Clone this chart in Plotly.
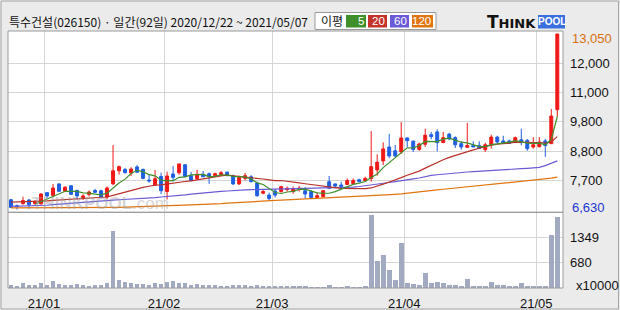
import plotly.graph_objects as go
import pandas as pd

# ---------------- data ----------------
dates = [
    "2020-12-22", "2020-12-23", "2020-12-24", "2020-12-28", "2020-12-29", "2020-12-30",
    "2021-01-04", "2021-01-05", "2021-01-06", "2021-01-07", "2021-01-08", "2021-01-11",
    "2021-01-12", "2021-01-13", "2021-01-14", "2021-01-15", "2021-01-18", "2021-01-19",
    "2021-01-20", "2021-01-21", "2021-01-22", "2021-01-25", "2021-01-26", "2021-01-27",
    "2021-01-28", "2021-01-29",
    "2021-02-01", "2021-02-02", "2021-02-03", "2021-02-04", "2021-02-05", "2021-02-08",
    "2021-02-09", "2021-02-10", "2021-02-15", "2021-02-16", "2021-02-17", "2021-02-18",
    "2021-02-19", "2021-02-22", "2021-02-23", "2021-02-24", "2021-02-25", "2021-02-26",
    "2021-03-02", "2021-03-03", "2021-03-04", "2021-03-05", "2021-03-08", "2021-03-09",
    "2021-03-10", "2021-03-11", "2021-03-12", "2021-03-15", "2021-03-16", "2021-03-17",
    "2021-03-18", "2021-03-19", "2021-03-22", "2021-03-23", "2021-03-24", "2021-03-25",
    "2021-03-26", "2021-03-29", "2021-03-30", "2021-03-31",
    "2021-04-01", "2021-04-02", "2021-04-05", "2021-04-06", "2021-04-07", "2021-04-08",
    "2021-04-09", "2021-04-12", "2021-04-13", "2021-04-14", "2021-04-15", "2021-04-16",
    "2021-04-19", "2021-04-20", "2021-04-21", "2021-04-22", "2021-04-23", "2021-04-26",
    "2021-04-27", "2021-04-28", "2021-04-29", "2021-04-30",
    "2021-05-03", "2021-05-04", "2021-05-06", "2021-05-07",
]

opens = [6990, 6770, 6850, 6980, 6850, 6840, 7250, 7150, 7570, 7300,
         7500, 7330, 7050, 7180, 7330, 7320, 7090, 7570, 8050, 8100,
         7970, 8190, 8100, 7710, 7530, 7840, 7290, 7930, 7980, 8270,
         7870, 7760, 7920, 7940, 7870, 7900, 8000, 7860, 7570, 7770,
         7830, 7600, 7230, 7160, 7310, 7290, 7360, 7290, 7360, 7320,
         7290, 7070, 7100, 7650, 7570, 7530, 7550, 7580, 7720, 7690,
         7770, 8080, 8410, 8920, 8780, 8740, 9250, 9130, 8830, 9020,
         9370, 9470, 9080, 9390, 9260, 9040, 8910, 8970, 8970, 8820,
         9000, 9280, 9140, 9140, 9090, 9180, 9160, 8920, 8930, 9140,
         9040, 10280]
highs = [7020, 6820, 7100, 7020, 6980, 7230, 7260, 7570, 7580, 7480,
         7530, 7360, 7190, 7330, 7390, 7360, 7480, 8990, 8240, 8150,
         8180, 8260, 8130, 7910, 8080, 7980, 8020, 8220, 8300, 8280,
         8010, 8090, 8040, 7990, 7980, 8040, 8020, 7910, 7870, 7970,
         7890, 7650, 7370, 7250, 7370, 7500, 7470, 7470, 7500, 7450,
         7340, 7250, 7350, 7860, 7580, 7650, 7770, 7770, 7760, 7830,
         9500, 8650, 9090, 9400, 8990, 9830, 9270, 9160, 9080, 9590,
         9470, 9570, 9470, 9430, 9310, 9130, 9800, 9130, 9130, 9070,
         9370, 9330, 9330, 9190, 9300, 9590, 9210, 9280, 9280, 9210,
         10310, 13050]
lows = [6690, 6630, 6810, 6660, 6810, 6810, 7040, 7080, 7270, 7270,
        7160, 7000, 6980, 7110, 7230, 7050, 7010, 7530, 7910, 7950,
        7860, 7970, 7740, 7610, 7510, 7200, 7000, 7660, 7900, 7810,
        7680, 7730, 7820, 7570, 7820, 7870, 7860, 7530, 7530, 7700,
        7630, 7100, 7190, 6980, 7070, 7250, 7290, 7210, 7290, 7040,
        7040, 7070, 7080, 7380, 7410, 7450, 7530, 7550, 7640, 7650,
        7650, 7870, 8260, 8510, 8560, 8670, 8920, 8740, 8780, 8920,
        9200, 8760, 9060, 9180, 8880, 8820, 8880, 8910, 8850, 8740,
        8860, 9070, 9050, 9040, 9070, 8980, 8780, 8860, 8910, 8560,
        9030, 10020]
closes = [6710, 6740, 6960, 6810, 6920, 7200, 7130, 7420, 7300, 7450,
          7190, 7130, 7130, 7270, 7260, 7070, 7420, 8050, 8200, 7980,
          8110, 8000, 7770, 7680, 7760, 7320, 7860, 7810, 8300, 7840,
          7690, 7920, 7830, 7850, 7940, 7980, 7870, 7570, 7800, 7870,
          7650, 7140, 7290, 7040, 7160, 7470, 7410, 7390, 7420, 7200,
          7070, 7140, 7320, 7410, 7490, 7480, 7690, 7690, 7650, 7770,
          8200, 8360, 8850, 8590, 8590, 9250, 9150, 8830, 9030, 9350,
          9300, 9080, 9260, 9210, 9000, 8920, 8970, 8920, 8860, 9000,
          9280, 9100, 9050, 9050, 9260, 9080, 8860, 9000, 9100, 8970,
          10050, 13050]
# volume, in units of 10,000 shares
volumes = [72, 45, 125, 71, 71, 125, 71, 178, 98, 71,
           71, 98, 71, 45, 71, 71, 125, 1517, 205, 152,
           125, 98, 98, 71, 125, 98, 152, 178, 125, 125,
           71, 98, 71, 71, 71, 45, 45, 71, 71, 71,
           45, 71, 45, 45, 45, 45, 45, 45, 45, 45,
           27, 27, 27, 80, 36, 36, 54, 36, 36, 54,
           1954, 723, 883, 482, 214, 1205, 134, 107, 80, 402,
           134, 161, 134, 80, 80, 54, 241, 54, 54, 54,
           161, 80, 80, 54, 54, 134, 54, 54, 54, 54,
           1419, 1900]

# 20-day average before 20 closes are available in this window
ma20_head = [6900, 6905, 6910, 6920, 6930, 6940, 6950, 6965, 6980, 6995,
             7005, 7015, 7025, 7040, 7055, 7070, 7090, 7150, 7210]
ma60 = [6750, 6755, 6755, 6760, 6765, 6770, 6790, 6810, 6830, 6845,
        6860, 6880, 6900, 6915, 6930, 6950, 6970, 6980, 6990, 7000,
        7015, 7025, 7040, 7055, 7070, 7090, 7105, 7125, 7145, 7170,
        7195, 7220, 7240, 7255, 7275, 7295, 7310, 7330, 7340, 7350,
        7360, 7365, 7375, 7385, 7390, 7392, 7394, 7396, 7398, 7399,
        7400, 7405, 7408, 7412, 7416, 7420, 7440, 7455, 7475, 7500,
        7525, 7550, 7585, 7620, 7655, 7695, 7725, 7755, 7785, 7835,
        7880, 7905, 7930, 7950, 7970, 7990, 8005, 8020, 8030, 8045,
        8060, 8075, 8090, 8100, 8115, 8125, 8140, 8150, 8175, 8240,
        8315, 8410]
ma120 = [6690, 6690, 6690, 6690, 6690, 6690, 6695, 6695, 6695, 6700,
         6700, 6700, 6700, 6705, 6705, 6705, 6710, 6710, 6715, 6720,
         6730, 6735, 6740, 6745, 6750, 6755, 6765, 6775, 6790, 6800,
         6805, 6810, 6815, 6825, 6835, 6850, 6865, 6880, 6900, 6915,
         6925, 6935, 6945, 6955, 6965, 6975, 6985, 6995, 7005, 7015,
         7025, 7035, 7045, 7055, 7065, 7075, 7085, 7095, 7105, 7115,
         7130, 7145, 7160, 7175, 7190, 7205, 7225, 7245, 7270, 7295,
         7330, 7350, 7375, 7400, 7425, 7445, 7465, 7485, 7505, 7530,
         7555, 7575, 7600, 7620, 7640, 7660, 7675, 7695, 7715, 7740,
         7780, 7820]

price_tick_labels = ["7,700", "8,800", "9,800", "11,000", "12,000"]
vol_tick_labels = ["680", "1349"]
month_labels = ["21/01", "21/02", "21/03", "21/04", "21/05"]
title_text = "특수건설(026150) · 일간(92일) 2020/12/22 ~ 2021/05/07"
legend_items = [("5", "#3f8f2a"), ("20", "#c4332a"), ("60", "#6a5ad8"), ("120", "#e0740f")]

# ---------------- derived ----------------
n = len(dates)
idx = list(range(n))
cs = pd.Series(closes, dtype=float)
ma5 = cs.rolling(5).mean()
ma20 = cs.rolling(20).mean()
ma20 = list(ma20_head) + list(ma20.iloc[len(ma20_head):])

p_hi, p_lo = max(highs), min(lows)
step = (p_hi - p_lo) / 6
price_tickvals = [p_lo + step * k for k in range(1, 6)]
vol_max = max(volumes)

dt = pd.to_datetime(pd.Series(dates))
month_starts = [i for i in range(1, n) if dt[i].month != dt[i - 1].month]
month_tickvals = [i - 0.5 for i in month_starts]

# ---------------- geometry ----------------
W, H = 620, 310
L, R, T, B = 8, 563, 31, 288
PW, PH = R - L, B - T
split = 212.3


def px(x):
    return (x - L) / PW


def py(y):
    return (B - y) / PH


vol_top = py(split)

RED = "#f01818"
BLUE = "#1f5fe0"
NUMFONT = "Liberation Sans, Arial, sans-serif"

fig = go.Figure()

fig.add_trace(go.Scatter(x=idx, y=ma120, mode="lines", line=dict(color="#e0740f", width=1.2),
                         hoverinfo="skip", xaxis="x", yaxis="y"))
fig.add_trace(go.Scatter(x=idx, y=ma60, mode="lines", line=dict(color="#6a5ad8", width=1.2),
                         hoverinfo="skip", xaxis="x", yaxis="y"))
fig.add_trace(go.Scatter(x=idx, y=ma20, mode="lines", line=dict(color="#b8322a", width=1.2),
                         hoverinfo="skip", xaxis="x", yaxis="y"))
fig.add_trace(go.Scatter(x=idx, y=list(ma5), mode="lines", line=dict(color="#3f8f2a", width=1.2),
                         hoverinfo="skip", xaxis="x", yaxis="y"))

fig.add_trace(go.Candlestick(
    x=idx, open=opens, high=highs, low=lows, close=closes,
    increasing=dict(line=dict(color=RED, width=1), fillcolor=RED),
    decreasing=dict(line=dict(color=BLUE, width=1), fillcolor=BLUE),
    whiskerwidth=0, xaxis="x", yaxis="y", hoverinfo="skip"))

fig.add_trace(go.Bar(x=idx, y=volumes, marker=dict(color="#a1aac1", line=dict(width=0)),
                     width=0.78, xaxis="x2", yaxis="y2", hoverinfo="skip"))

grid = "#d6d6d6"
xcommon = dict(range=[-0.5, n - 0.05], tickvals=month_tickvals, showgrid=True, gridcolor=grid,
               gridwidth=1, zeroline=False, showline=False, ticks="", fixedrange=True,
               automargin=False)
fig.update_layout(
    width=W, height=H,
    margin=dict(l=L, r=W - R, t=T, b=H - B, pad=0, autoexpand=False),
    paper_bgcolor="#ebebeb", plot_bgcolor="white",
    showlegend=False, bargap=0,
    xaxis=dict(**xcommon, domain=[0, 1], anchor="y", showticklabels=False,
               rangeslider=dict(visible=False)),
    xaxis2=dict(**xcommon, domain=[0, 1], anchor="y2", matches="x", showticklabels=True,
                ticktext=month_labels[:len(month_tickvals)],
                tickfont=dict(family=NUMFONT, size=13, color="#111"), ticklabelstandoff=6),
    yaxis=dict(domain=[vol_top, 1], range=[p_lo - (split - 209.6) * (step / 29.35),
                                           p_hi + (34 - T) * (step / 29.35)],
               side="right", anchor="x", tickvals=price_tickvals, ticktext=price_tick_labels,
               showgrid=True, gridcolor=grid, zeroline=False, ticks="", showline=False,
               tickfont=dict(family=NUMFONT, size=13, color="#111"), ticklabelstandoff=6,
               fixedrange=True, automargin=False),
    yaxis2=dict(domain=[0, vol_top], range=[0, vol_max * 1.035], side="right", anchor="x2",
                tickvals=[vol_max * 1.035 / 3, vol_max * 1.035 * 2 / 3], ticktext=vol_tick_labels,
                showgrid=True, gridcolor=grid, zeroline=False, ticks="", showline=False,
                tickfont=dict(family=NUMFONT, size=13, color="#111"), ticklabelstandoff=6,
                fixedrange=True, automargin=False),
)

shapes = []
# outer frame
shapes.append(dict(type="rect", xref="paper", yref="paper", x0=px(1), x1=px(618.5), y0=py(309), y1=py(1),
                   line=dict(color="#a6a6a6", width=1), layer="below"))
# panel borders
for y0, y1 in [(T, split), (split, B)]:
    shapes.append(dict(type="rect", xref="paper", yref="paper", x0=0, x1=1, y0=py(y1), y1=py(y0),
                       line=dict(color="#9a9a9a", width=1), layer="above"))
# legend box
shapes.append(dict(type="rect", xref="paper", yref="paper", x0=px(315), x1=px(436), y0=py(29.5), y1=py(12.5),
                   line=dict(color="#9a9a9a", width=1), fillcolor="white", layer="above"))
box_x = [(346, 366), (368, 387), (390, 409), (412, 433)]
for (a, b), (lab, col) in zip(box_x, legend_items):
    shapes.append(dict(type="rect", xref="paper", yref="paper", x0=px(a), x1=px(b), y0=py(27.5), y1=py(15),
                       line=dict(width=0), fillcolor=col, layer="above"))
# logo background
shapes.append(dict(type="rect", xref="paper", yref="paper", x0=px(538), x1=px(565), y0=py(28.5), y1=py(15),
                   line=dict(width=0), fillcolor="#3a6fe0", layer="above"))
fig.update_layout(shapes=shapes)

ann = []
ann.append(dict(x=px(7), y=py(21.5), xref="paper", yref="paper", xanchor="left", yanchor="middle",
                text=title_text, showarrow=False,
                font=dict(family="Noto Sans CJK KR", size=12, color="#111")))
ann.append(dict(x=px(319), y=py(21), xref="paper", yref="paper", xanchor="left", yanchor="middle",
                text="이평", showarrow=False, font=dict(family="Noto Sans CJK KR", size=12, color="#111")))
for (a, b), (lab, col) in zip(box_x, legend_items):
    ann.append(dict(x=px(b), y=py(21.3), xref="paper", yref="paper", xanchor="right", yanchor="middle",
                    text=lab, showarrow=False, font=dict(family=NUMFONT, size=11.5, color="white")))
ann.append(dict(x=px(538), y=py(22), xref="paper", yref="paper", xanchor="right", yanchor="middle",
                text="<b>T<span style='font-size:13px'>HINK</span></b>", showarrow=False,
                font=dict(family="DejaVu Sans, sans-serif", size=17, color="#111")))
ann.append(dict(x=px(551.5), y=py(22), xref="paper", yref="paper", xanchor="center", yanchor="middle",
                text="<b>POOL</b>", showarrow=False,
                font=dict(family=NUMFONT, size=10, color="white")))
# max / min price labels
ann.append(dict(x=px(570), y=py(38.3), xref="paper", yref="paper", xanchor="left", yanchor="middle",
                text=f"{p_hi:,}", showarrow=False, font=dict(family=NUMFONT, size=13, color="#d8700e")))
ann.append(dict(x=px(570), y=py(207), xref="paper", yref="paper", xanchor="left", yanchor="middle",
                text=f"{p_lo:,}", showarrow=False, font=dict(family=NUMFONT, size=13, color="#1b35d0")))
ann.append(dict(x=px(574), y=py(285.5), xref="paper", yref="paper", xanchor="left", yanchor="middle",
                text="x10000", showarrow=False, font=dict(family=NUMFONT, size=13, color="#111")))
# watermark
ann.append(dict(x=px(100), y=py(203), xref="paper", yref="paper", xanchor="center", yanchor="middle",
                text="<b>THINKPOOL</b>.com", showarrow=False,
                font=dict(family="Liberation Sans, Arial, sans-serif", size=17, color="rgba(160,160,160,0.45)")))
fig.update_layout(annotations=ann)

fig.write_html("out.html", include_plotlyjs=True, config=dict(displayModeBar=False, staticPlot=True))
